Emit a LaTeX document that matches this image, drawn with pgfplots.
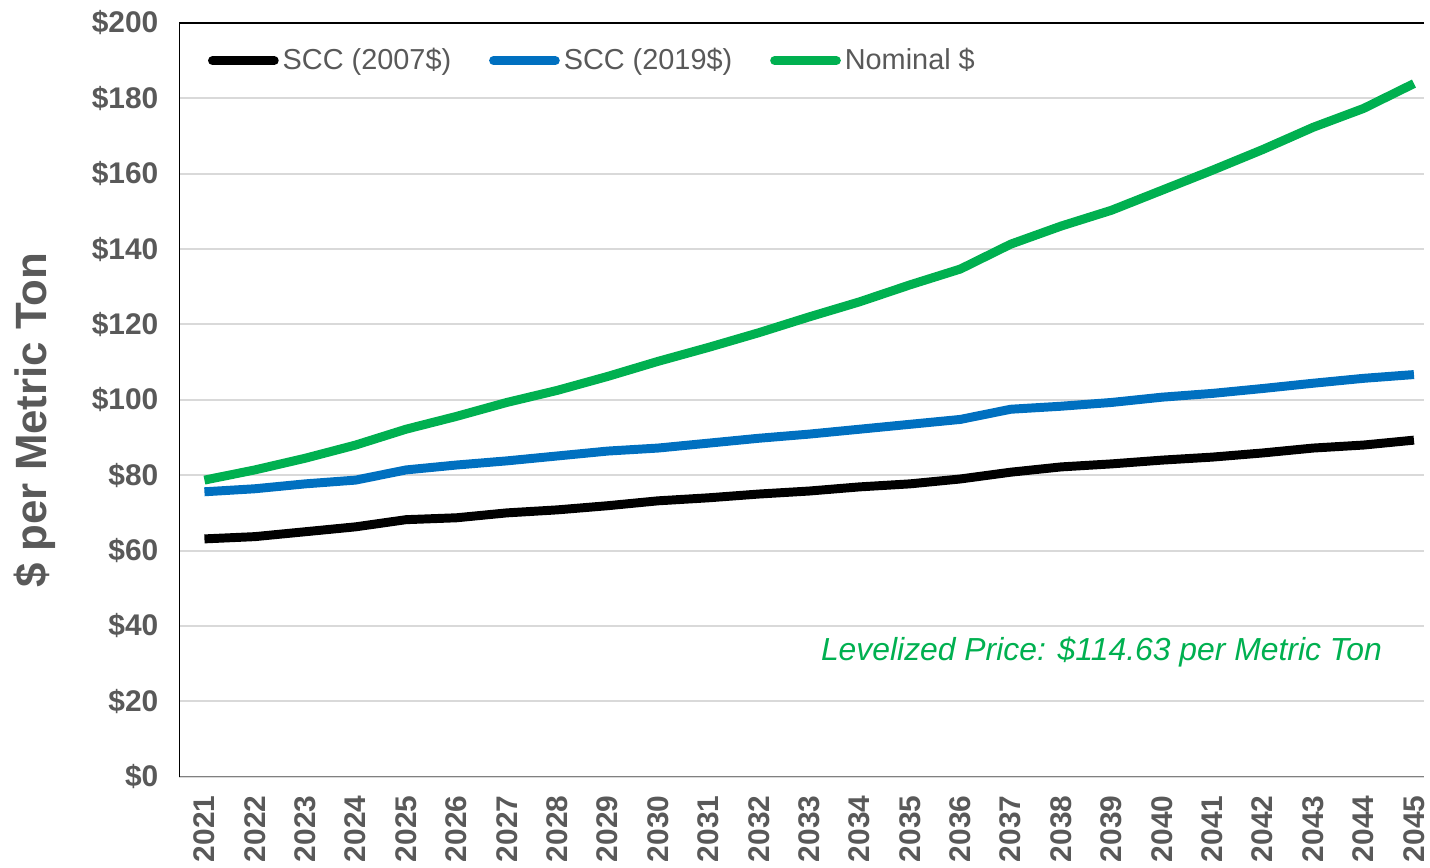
\documentclass[border=0pt]{standalone}
\usepackage{fontspec}
\setmainfont{Liberation Sans}
\usepackage{pgfplots}
\usepackage{pgfplotstable}
\pgfplotsset{compat=1.18}
\definecolor{txtgray}{HTML}{595959}
\definecolor{gridgray}{HTML}{D9D9D9}
\definecolor{sccblue}{HTML}{0070C0}
\definecolor{nomgreen}{HTML}{00B050}

\pgfplotstableread{
year scc2007 scc2019 nominal
2021 63.1 75.6 78.7
2022 63.7 76.4 81.4
2023 65.0 77.7 84.5
2024 66.3 78.7 88.0
2025 68.2 81.4 92.2
2026 68.7 82.7 95.6
2027 70.0 83.8 99.3
2028 70.8 85.1 102.5
2029 71.9 86.4 106.2
2030 73.2 87.2 110.2
2031 74.0 88.5 113.9
2032 75.0 89.8 117.8
2033 75.8 90.9 122.0
2034 76.9 92.2 126.0
2035 77.7 93.5 130.5
2036 79.0 94.8 134.7
2037 80.8 97.5 141.3
2038 82.2 98.3 146.1
2039 83.0 99.3 150.3
2040 84.0 100.7 155.6
2041 84.8 101.7 160.9
2042 85.9 103.0 166.4
2043 87.2 104.4 172.3
2044 88.0 105.7 177.3
2045 89.3 106.7 183.9
}\scctable

\begin{document}
\begin{tikzpicture}
\begin{axis}[
    scale only axis,
    width=625pt, height=378.5pt,
    xmin=2020.5, xmax=2045.2,
    ymin=0, ymax=200,
    xtick={2021,...,2045},
    ytick={0,20,...,200},
    /pgf/number format/.cd, 1000 sep={}, assume math mode=true,
    /pgfplots/.cd,
    major tick length=0pt,
    axis line style={draw=none},
    ymajorgrids,
    grid style={gridgray, line width=1pt},
    yticklabel={\$\pgfmathprintnumber{\tick}},
    yticklabel style={font=\fontsize{15}{17}\selectfont\bfseries, text=txtgray, xshift=-7pt},
    xticklabel style={font=\fontsize{15}{17}\selectfont\bfseries, text=txtgray, rotate=90, anchor=east, xshift=-6pt},
    ylabel={\$ per Metric Ton},
    ylabel style={font=\fontsize{22}{26}\selectfont\bfseries, text=txtgray, at={(axis description cs:-0.116,0.473)}, anchor=center},
    legend columns=3,
    legend style={at={(axis description cs:0.018,0.95)}, anchor=west, draw=none, fill=none,
        font=\fontsize{14.5}{17}\selectfont, text=txtgray,
        /tikz/every even column/.append style={column sep=17pt}},
    legend image code/.code={\draw[#1, line cap=round] (0pt,0pt) -- (31pt,0pt);},
]
\addplot[black, line width=4.5pt, line join=round] table[x=year, y=scc2007] {\scctable};
\addlegendentry{SCC (2007\$)}
\addplot[sccblue, line width=4.5pt, line join=round] table[x=year, y=scc2019] {\scctable};
\addlegendentry{SCC (2019\$)}
\addplot[nomgreen, line width=4.5pt, line join=round] table[x=year, y=nominal] {\scctable};
\addlegendentry{Nominal \$}
\draw[gray, line width=0.8pt] (rel axis cs:0,0) -- (rel axis cs:1,0);
\draw[black, line width=1pt] (rel axis cs:1,1) -- (rel axis cs:0,1) -- (rel axis cs:0,0);
\node[font=\fontsize{16}{19}\selectfont\itshape, text=nomgreen] at (axis cs:2038.8,33) {Levelized Price: \$114.63 per Metric Ton};
\end{axis}
\pgfresetboundingbox
\path ([xshift=-90pt, yshift=-45.5pt]current axis.south west) rectangle ([xshift=3pt, yshift=11.5pt]current axis.north east);
\end{tikzpicture}
\end{document}
